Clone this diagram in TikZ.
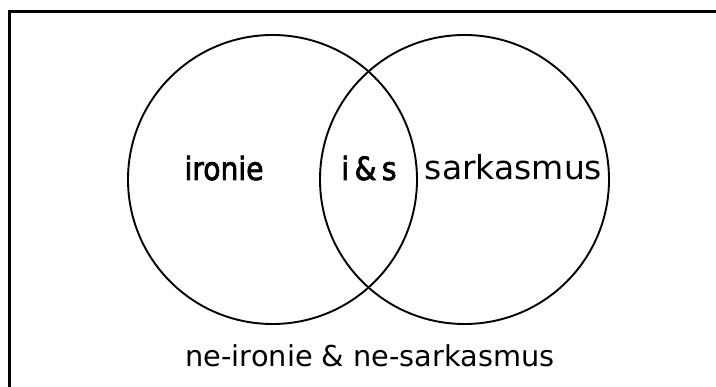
\documentclass[tikz,border=0pt]{standalone}
\usepackage{fontspec}
\setmainfont{DejaVu Sans}
\newfontfamily\dinlike[FakeStretch=0.88,FakeBold=2.2]{DejaVu Sans}
\tikzset{
  setcircle/.style={circle, draw, line width=1.9pt, minimum size=289pt, inner sep=0pt},
  lbl/.style={anchor=base, inner sep=0pt},
  dinfont/.style={font=\dinlike\fontsize{32}{38}\selectfont},
}
\begin{document}
\begin{tikzpicture}[x=1pt,y=-1pt]
\useasboundingbox (0,0) rectangle (716,387);
\fill[white] (0,0) rectangle (716,387);
\draw[line width=3pt] (9.5,387) -- (9.5,12) -- (716,12);
\node[setcircle] (L) at (272.5,179.5) {};
\node[setcircle] (R) at (464.5,179.5) {};
\node[lbl, dinfont] (ir) at (224,180) {ironie};
\node[lbl, dinfont] (is) at (369,180) {i\,\&\,s};
\node[lbl, font=\fontsize{33}{40}\selectfont] (sa) at (513.5,180) {sarkasmus};
\node[lbl, font=\fontsize{28.8}{34}\selectfont] (ne) at (370,367) {ne-ironie \& ne-sarkasmus};
\end{tikzpicture}
\end{document}
